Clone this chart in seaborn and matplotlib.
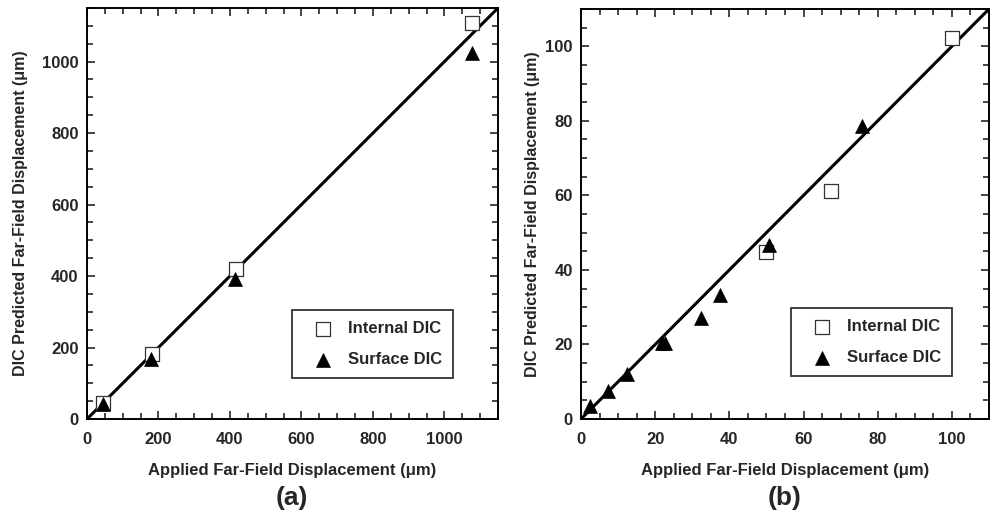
import numpy as np
import pandas as pd
import matplotlib
matplotlib.use("Agg")
import matplotlib.pyplot as plt
import seaborn as sns
from matplotlib.ticker import MultipleLocator

# (a) data
a_int_x = [45, 182, 416, 1078]
a_int_y = [45, 182, 421, 1107]
a_surf_x = [45, 180, 413, 1078]
a_surf_y = [41, 168, 393, 1025]
a_line = [0, 1150]

# (b) data
b_int_x = [49.9, 67.4, 99.9]
b_int_y = [44.9, 61.1, 102.2]
b_surf_x = [2.3, 7.4, 12.4, 21.8, 22.6, 32.4, 37.5, 50.8, 75.8]
b_surf_y = [3.4, 7.6, 12.0, 20.5, 20.5, 27.0, 33.2, 46.6, 78.5]
b_line = [0, 110]

sns.set_style("ticks")
plt.rcParams['font.family'] = ['Liberation Sans', 'DejaVu Sans']
plt.rcParams['font.weight'] = 'bold'
plt.rcParams['axes.labelweight'] = 'bold'

fig = plt.figure(figsize=(9.92, 5.19), dpi=100)
ax1 = fig.add_axes([87/992, 100/519, 411/992, 411/519])
ax2 = fig.add_axes([581/992, 100/519, 408/992, 410/519])

def draw(ax, ix, iy, sx, sy, ln, lim, major, minor, legpos, ylab_x):
    sns.lineplot(x=ln, y=ln, ax=ax, color='black', linewidth=2.2)
    sns.scatterplot(x=ix, y=iy, ax=ax, marker='s', s=95, facecolor='white',
                    edgecolor='#333333', linewidth=0.9, label='Internal DIC', zorder=3)
    sns.scatterplot(x=sx, y=sy, ax=ax, marker='^', s=100, color='black',
                    edgecolor='black', linewidth=0.5, label='Surface DIC', zorder=4)
    ax.set_xlim(0, lim)
    ax.set_ylim(0, lim)
    ax.xaxis.set_major_locator(MultipleLocator(major))
    ax.yaxis.set_major_locator(MultipleLocator(major))
    ax.xaxis.set_minor_locator(MultipleLocator(minor))
    ax.yaxis.set_minor_locator(MultipleLocator(minor))
    ax.tick_params(which='both', direction='in', top=True, right=True,
                   labelsize=12, width=1.2, pad=6)
    ax.tick_params(axis='x', which='both', pad=9.5)
    ax.tick_params(which='major', length=6)
    ax.tick_params(which='minor', length=4)
    for lab in ax.get_xticklabels() + ax.get_yticklabels():
        lab.set_fontweight('bold')
    for sp in ax.spines.values():
        sp.set_linewidth(1.4)
        sp.set_color('black')
    ax.set_xlabel('Applied Far-Field Displacement (\u03bcm)', fontsize=12)
    ax.set_ylabel('DIC Predicted Far-Field Displacement (\u03bcm)', fontsize=11.5)
    ax.xaxis.set_label_coords(0.5, -0.1265)
    ax.yaxis.set_label_coords(ylab_x, 0.5)
    ax.xaxis.label.set_va('center')
    ax.yaxis.label.set_va('center')
    leg = ax.legend(loc='lower right', bbox_to_anchor=legpos, frameon=True, fancybox=False,
                    edgecolor='black', fontsize=12, borderpad=0.65, labelspacing=0.95,
                    handlelength=2.4, handletextpad=0.3, markerscale=1.0, borderaxespad=0)
    leg.get_frame().set_linewidth(1.3)
    for t in leg.get_texts():
        t.set_fontweight('bold')

draw(ax1, a_int_x, a_int_y, a_surf_x, a_surf_y, a_line, 1150, 200, 50, (0.89, 0.10), -0.163)
draw(ax2, b_int_x, b_int_y, b_surf_x, b_surf_y, b_line, 110, 20, 5, (0.909, 0.105), -0.120)

fig.text(292/992, 1 - 498/519, '(a)', fontsize=19, fontweight='bold', ha='center', va='center')
fig.text(785/992, 1 - 498/519, '(b)', fontsize=19, fontweight='bold', ha='center', va='center')

fig.savefig('out.png', dpi=100)
